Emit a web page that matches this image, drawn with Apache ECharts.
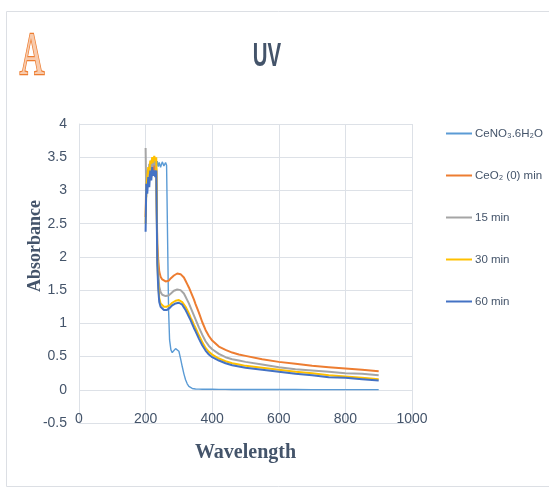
<!DOCTYPE html>
<html>
<head>
<meta charset="utf-8">
<title>UV</title>
<script src="https://cdn.jsdelivr.net/npm/echarts@6/dist/echarts.min.js"></script>
<style>
  html, body { margin: 0; padding: 0; background: #ffffff; }
  #chart { width: 549px; height: 490px; }
</style>
</head>
<body>
<div id="chart"></div>
<script>
// Wavelength (nm) sampling shared by all spectra
const wavelength = [200, 202, 205, 208, 211, 214, 217, 220, 223, 226, 229, 232, 235, 238, 241, 245, 250, 255, 260, 263, 266, 269, 272, 276, 280, 285, 290, 295, 300, 305, 310, 315, 320, 325, 330, 335, 340, 345, 350, 360, 370, 380, 390, 400, 420, 440, 460, 480, 500, 550, 600, 650, 700, 750, 800, 850, 900];

// Absorbance of each sample
const ceNitrate = [3.00, 3.20, 3.30, 3.25, 3.35, 3.30, 3.40, 3.32, 3.45, 3.38, 3.42, 3.35, 3.44, 3.36, 3.42, 3.35, 3.43, 3.37, 3.42, 3.38, 3.40, 1.20, 0.75, 0.60, 0.56, 0.57, 0.62, 0.63, 0.58, 0.47, 0.35, 0.24, 0.15, 0.09, 0.05, 0.03, 0.02, 0.015, 0.012, 0.010, 0.009, 0.008, 0.007, 0.007, 0.006, 0.006, 0.005, 0.005, 0.005, 0.004, 0.004, 0.004, 0.003, 0.003, 0.003, 0.003, 0.003];
const ceO2_0 = [2.60, 3.20, 3.05, 3.25, 3.15, 3.30, 3.20, 3.35, 3.28, 3.40, 3.30, 3.35, 2.20, 1.95, 1.78, 1.70, 1.66, 1.64, 1.63, 1.63, 1.63, 1.64, 1.66, 1.68, 1.70, 1.72, 1.74, 1.75, 1.75, 1.74, 1.72, 1.69, 1.64, 1.59, 1.54, 1.48, 1.42, 1.36, 1.29, 1.16, 1.02, 0.90, 0.81, 0.74, 0.65, 0.60, 0.56, 0.53, 0.51, 0.46, 0.42, 0.39, 0.36, 0.34, 0.32, 0.30, 0.28];
const min15 = [3.64, 2.90, 3.30, 3.15, 3.40, 3.30, 3.45, 3.35, 3.48, 3.38, 3.45, 3.30, 2.10, 1.75, 1.55, 1.47, 1.43, 1.41, 1.41, 1.41, 1.41, 1.42, 1.43, 1.45, 1.47, 1.49, 1.50, 1.51, 1.51, 1.50, 1.48, 1.45, 1.40, 1.35, 1.30, 1.24, 1.18, 1.12, 1.06, 0.94, 0.83, 0.73, 0.66, 0.61, 0.54, 0.49, 0.46, 0.44, 0.42, 0.38, 0.34, 0.31, 0.29, 0.27, 0.25, 0.24, 0.22];
const min30 = [2.50, 3.00, 3.20, 3.35, 3.25, 3.45, 3.40, 3.50, 3.42, 3.52, 3.45, 3.50, 2.00, 1.60, 1.38, 1.30, 1.27, 1.25, 1.25, 1.25, 1.25, 1.26, 1.27, 1.29, 1.31, 1.32, 1.34, 1.35, 1.35, 1.34, 1.32, 1.29, 1.25, 1.20, 1.15, 1.09, 1.04, 0.98, 0.93, 0.82, 0.72, 0.63, 0.57, 0.53, 0.47, 0.43, 0.40, 0.38, 0.36, 0.33, 0.30, 0.27, 0.25, 0.22, 0.20, 0.18, 0.16];
const min60 = [2.38, 3.10, 2.95, 3.20, 3.05, 3.30, 3.15, 3.35, 3.22, 3.30, 3.20, 3.30, 1.90, 1.52, 1.32, 1.25, 1.22, 1.20, 1.20, 1.20, 1.21, 1.22, 1.23, 1.25, 1.27, 1.28, 1.30, 1.31, 1.31, 1.30, 1.28, 1.24, 1.20, 1.15, 1.10, 1.05, 0.99, 0.93, 0.88, 0.77, 0.67, 0.59, 0.53, 0.49, 0.44, 0.40, 0.37, 0.35, 0.33, 0.30, 0.27, 0.24, 0.22, 0.19, 0.18, 0.16, 0.14];

const seriesNames = ['CeNO₃.6H₂O', 'CeO₂ (0) min', '15 min', '30 min', '60 min'];
const seriesValues = [ceNitrate, ceO2_0, min15, min30, min60];
const seriesColors = ['#5B9BD5', '#ED7D31', '#A5A5A5', '#FFC000', '#4472C4'];
const seriesWidths = [1.4, 2, 2, 2, 2];

const textColor = '#44546A';
const gridColor = '#DDE1E7';
const sans = "'Liberation Sans', Arial, sans-serif";
const serif = "'Liberation Serif', 'DejaVu Serif', serif";

const chart = echarts.init(document.getElementById('chart'), null, { renderer: 'canvas' });

chart.setOption({
  backgroundColor: '#ffffff',
  animation: false,
  grid: { left: 79, top: 124, right: 137, bottom: 67, containLabel: false },
  legend: {
    orient: 'vertical',
    left: 446,
    top: 126,
    padding: 0,
    icon: 'rect',
    itemWidth: 26,
    itemHeight: 2,
    itemGap: 27,
    textStyle: { color: textColor, fontSize: 11.5, fontFamily: sans, lineHeight: 15, padding: [0, 0, 0, -2] },
    data: seriesNames
  },
  xAxis: {
    type: 'value',
    min: 0,
    max: 1000,
    interval: 200,
    name: 'Wavelength',
    nameLocation: 'middle',
    nameGap: 20,
    nameTextStyle: { color: textColor, fontFamily: serif, fontWeight: 'bold', fontSize: 20 },
    axisLine: { show: true, onZero: false, lineStyle: { color: gridColor, width: 1 } },
    axisTick: { show: false },
    axisLabel: { color: textColor, fontSize: 14, fontFamily: sans, margin: -11, formatter: v => String(v) },
    splitLine: { show: true, lineStyle: { color: gridColor, width: 1 } }
  },
  yAxis: {
    type: 'value',
    min: -0.5,
    max: 4,
    interval: 0.5,
    axisLine: { show: true, onZero: false, lineStyle: { color: gridColor, width: 1 } },
    axisTick: { show: false },
    axisLabel: { color: textColor, fontSize: 14, fontFamily: sans, margin: 12 },
    splitLine: { show: true, lineStyle: { color: gridColor, width: 1 } }
  },
  graphic: [
    {
      type: 'rect',
      silent: true,
      shape: { x: 6.5, y: 11.5, width: 600, height: 475 },
      style: { fill: 'none', stroke: '#DCDFE4', lineWidth: 1 }
    },
    {
      type: 'text',
      silent: true,
      x: 32,
      y: 58,
      scaleX: 0.55,
      style: {
        text: 'A',
        font: "62px 'Liberation Serif', 'DejaVu Serif', serif",
        fill: '#F8CBAD',
        stroke: '#ED7D31',
        lineWidth: 2.5,
        align: 'center',
        verticalAlign: 'middle'
      }
    },
    {
      type: 'text',
      silent: true,
      x: 267,
      y: 57,
      scaleX: 0.6,
      style: {
        text: 'UV',
        font: "bold 34px 'Liberation Sans', sans-serif",
        fill: textColor,
        align: 'center',
        verticalAlign: 'middle'
      }
    },
    {
      type: 'text',
      silent: true,
      x: 35,
      y: 246,
      rotation: Math.PI / 2,
      style: {
        text: 'Absorbance',
        font: "bold 18px 'Liberation Serif', 'DejaVu Serif', serif",
        fill: textColor,
        align: 'center',
        verticalAlign: 'middle'
      }
    }
  ],
  series: seriesNames.map((name, i) => ({
    name: name,
    type: 'line',
    showSymbol: false,
    symbol: 'none',
    smooth: false,
    color: seriesColors[i],
    lineStyle: { color: seriesColors[i], width: seriesWidths[i] },
    data: wavelength.map((w, k) => [w, seriesValues[i][k]])
  }))
});
</script>
</body>
</html>
